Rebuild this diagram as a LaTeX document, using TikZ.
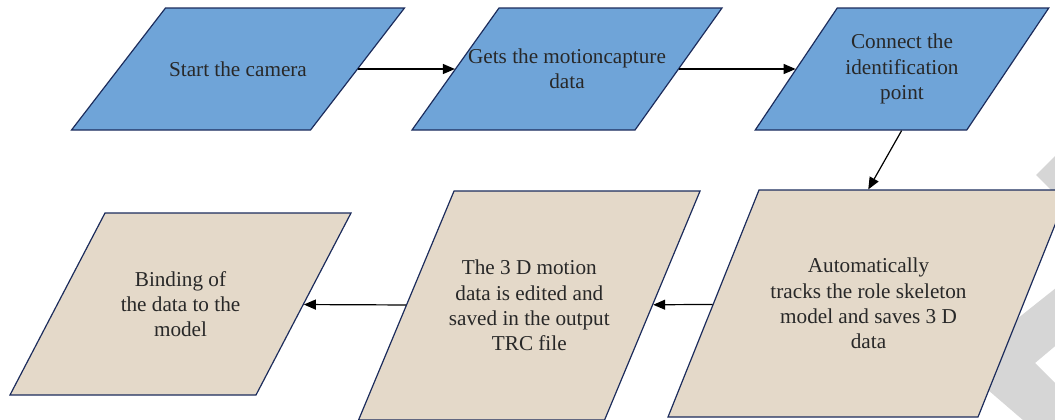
\documentclass[tikz,border=0pt]{standalone}
\usepackage{fontspec}
\setmainfont{Liberation Serif}
\usetikzlibrary{arrows.meta}

\definecolor{boxblue}{RGB}{111,164,216}
\definecolor{boxtan}{RGB}{228,217,201}
\definecolor{edgenavy}{RGB}{28,44,92}
\definecolor{inkgray}{RGB}{40,40,40}
\definecolor{markgray}{RGB}{214,214,214}

\begin{document}
\begin{tikzpicture}[
        x=0.5pt, y=-0.5pt,
        para/.style={rectangle, transform shape, inner sep=0pt, draw=edgenavy, line width=0.6pt},
        bluebox/.style={para, fill=boxblue, minimum height=61pt},
        tanbox/.style={para, fill=boxtan},
        txt/.style={font=\fontsize{10.6}{12.6}\selectfont, text=inkgray, align=center, inner sep=0pt},
        arrow/.style={-{Triangle[length=6pt, width=5pt]}, line width=0.6pt, black}
    ]
    \useasboundingbox (0,0) rectangle (1055,419);
    \clip (0,0) rectangle (1055,419);

    % grey page mark on the right
    \fill[markgray] (1036,175) -- (1066,145) -- (1110,145) -- (1110,230) -- (1066,205) -- cycle;
    \fill[markgray] (1110,245) -- (959,365) -- (1110,495) -- (1110,438) -- (1035,363) -- (1110,300) -- cycle;

    % top row
    \node[bluebox, xslant=0.770, minimum width=119.5pt] (b1) at (238,69) {};
    \node[bluebox, xslant=0.713, minimum width=111.5pt] (b2) at (567,69) {};
    \node[bluebox, xslant=0.672, minimum width=105.75pt] (b3) at (902,69) {};

    % bottom row
    \node[tanbox, xslant=0.401, minimum width=155pt, minimum height=113.5pt] (b4) at (868.5,303.5) {};
    \node[tanbox, xslant=0.417, minimum width=123pt, minimum height=114.5pt] (b5) at (529.3,305.5) {};
    \node[tanbox, xslant=0.522, minimum width=123pt, minimum height=91pt] (b6) at (180.5,304) {};

    \node[txt] (t1) at (b1) {Start the camera};
    \node[txt] (t2) at (b2) {Gets the motioncapture\\data};
    \node[txt] (t3) at (b3) {Connect the\\identification\\point};
    \node[txt] (t4) at (b4) {Automatically\\tracks the role skeleton\\model and saves 3 D\\data};
    \node[txt] (t5) at (b5) {The 3 D motion\\data is edited and\\saved in the output\\TRC file};
    \node[txt] (t6) at (b6) {Binding of\\the data to the\\model};

    \draw[arrow] (b1) -- (b2);
    \draw[arrow] (b2) -- (b3);
    \draw[arrow] ([xshift=20.5pt]b3.south) -- ([xshift=-23pt]b4.north);
    \draw[arrow] (b4) -- (b5);
    \draw[arrow] (b5) -- (b6);

\end{tikzpicture}
\end{document}
